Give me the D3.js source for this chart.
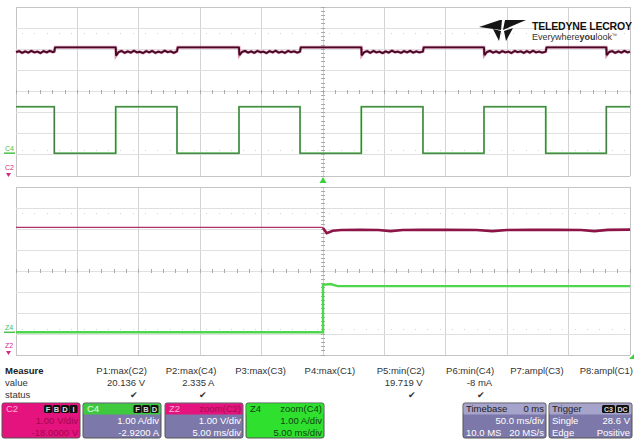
<!DOCTYPE html>
<html><head><meta charset="utf-8">
<script src="https://cdn.jsdelivr.net/npm/d3@7"></script>
<style>html,body{margin:0;padding:0;background:#fff;}svg{display:block;}</style>
</head><body>
<svg id="c" width="634" height="439"></svg>
<script>
// ---------- data ----------
// Timebase 50 ms/div, 10 div, trigger at centre
const mainTimeDomain = [-250, 250];
// C4 (current, A) square wave: time (ms), amps
const c4Time = [-250, -218.8, -218.8, -168.8, -168.8, -118.9, -118.9, -68.4, -68.4, -18.7, -18.7, 31.2, 31.2, 81.4, 81.4, 131.1, 131.1, 181.4, 181.4, 230.7, 230.7, 250];
const c4Amp  = [2.2, 2.2, 0.0, 0.0, 2.2, 2.2, 0.0, 0.0, 2.2, 2.2, 0.0, 0.0, 2.2, 2.2, 0.0, 0.0, 2.2, 2.2, 0.0, 0.0, 2.2, 2.2];
// C2 (voltage, V): flat when current is low, droop with ripple when current is high
const c2Time = [
  -250, -247.5, -245, -242.5, -240, -237.5, -235, -232.5, -230, -227.5, -225, -222.5, -220, -218.8, -218.2,
  -168.8, -168.5, -166.5, -164, -161.5, -159, -156.5, -154, -151.5, -149, -146.5, -144, -141.5, -139, -136.5, -134, -131.5, -129, -126.5, -124, -121.5, -119.5, -118.9, -118.3,
  -68.4, -68.1, -66, -63.5, -61, -58.5, -56, -53.5, -51, -48.5, -46, -43.5, -41, -38.5, -36, -33.5, -31, -28.5, -26, -23.5, -21, -18.7, -18.1,
  31.2, 31.5, 33.5, 36, 38.5, 41, 43.5, 46, 48.5, 51, 53.5, 56, 58.5, 61, 63.5, 66, 68.5, 71, 73.5, 76, 78.5, 81.4, 82,
  131.1, 131.4, 133.5, 136, 138.5, 141, 143.5, 146, 148.5, 151, 153.5, 156, 158.5, 161, 163.5, 166, 168.5, 171, 173.5, 176, 178.5, 181.4, 182,
  230.7, 231, 233, 235.5, 238, 240.5, 243, 245.5, 248, 250];
const c2Volt = [
  19.86, 19.91, 19.83, 19.90, 19.84, 19.92, 19.85, 19.89, 19.82, 19.91, 19.85, 19.92, 19.86, 19.89, 20.09,
  20.09, 19.70, 19.86, 19.92, 19.83, 19.90, 19.84, 19.93, 19.85, 19.88, 19.82, 19.91, 19.85, 19.92, 19.83, 19.89, 19.84, 19.93, 19.86, 19.90, 19.83, 19.89, 19.90, 20.09,
  20.09, 19.72, 19.87, 19.92, 19.84, 19.90, 19.83, 19.92, 19.86, 19.89, 19.82, 19.91, 19.85, 19.93, 19.84, 19.89, 19.83, 19.92, 19.86, 19.90, 19.84, 19.89, 20.09,
  20.09, 19.71, 19.86, 19.91, 19.83, 19.92, 19.85, 19.89, 19.82, 19.90, 19.84, 19.93, 19.86, 19.89, 19.83, 19.91, 19.85, 19.92, 19.84, 19.90, 19.85, 19.89, 20.09,
  20.09, 19.72, 19.87, 19.92, 19.84, 19.90, 19.83, 19.91, 19.85, 19.89, 19.82, 19.92, 19.86, 19.90, 19.83, 19.91, 19.84, 19.93, 19.85, 19.89, 19.84, 19.89, 20.09,
  20.09, 19.72, 19.87, 19.91, 19.83, 19.90, 19.84, 19.92, 19.85, 19.89];
// Zoom traces: 5 ms/div
const zoomTimeDomain = [-25, 25];
const z2Time = [-25, -0.1, 0.0, 0.3, 0.8, 1.5, 3.0, 4.5, 5.5, 6.5, 8.0, 10.0, 12.5, 13.8, 15.0, 17.0, 19.0, 21.0, 22.1, 23.2, 25];
const z2Volt = [20.08, 20.08, 20.05, 19.80, 19.92, 19.95, 19.96, 19.95, 19.90, 19.95, 19.96, 19.96, 19.95, 19.90, 19.95, 19.96, 19.96, 19.95, 19.90, 19.96, 19.97];
const z4Time = [-25, 0, 0, 0.6, 1.2, 25];
const z4Amp  = [0.0, 0.0, 2.26, 2.3, 2.2, 2.2];
// Measurement table
const measNames  = ["P1:max(C2)", "P2:max(C4)", "P3:max(C3)", "P4:max(C1)", "P5:min(C2)", "P6:min(C4)", "P7:ampl(C3)", "P8:ampl(C1)"];
const measValues = ["20.136 V", "2.335 A", "", "", "19.719 V", "-8 mA", "", ""];
const measStatus = [true, true, false, false, true, true, false, false];
// Channel descriptor boxes
const chanNames  = ["C2", "C4", "Z2", "Z4"];
const chanTitles = ["", "", "zoom(C2)", "zoom(C4)"];
const chanBadges = [["F","B","D","I"], ["F","B","D"], [], []];
const chanLine1  = ["1.00 V/div", "1.00 A/div", "1.00 V/div", "1.00 A/div"];
const chanLine2  = ["-18.0000 V", "-2.9200 A", "5.00 ms/div", "5.00 ms/div"];

// ---------- drawing ----------
const svg = d3.select("#c");
const FONT = "'Liberation Sans', Arial, sans-serif";

function grid(x0, x1, y0, y1) {
  const gx = d3.scaleLinear().domain([0, 10]).range([x0, x1]);
  const gy = d3.scaleLinear().domain([0, 8]).range([y0, y1]);
  const g = svg.append("g").attr("shape-rendering", "crispEdges");
  g.append("g").selectAll("line").data(d3.range(0, 11)).join("line")
    .attr("x1", d => gx(d)).attr("x2", d => gx(d)).attr("y1", y0).attr("y2", y1)
    .attr("stroke", d => (d === 0 || d === 10) ? "#c4c4c4" : "#d3d3d3").attr("stroke-width", 1);
  g.append("g").selectAll("line").data(d3.range(0, 9)).join("line")
    .attr("x1", x0).attr("x2", x1).attr("y1", d => gy(d)).attr("y2", d => gy(d))
    .attr("stroke", d => (d === 0 || d === 8) ? "#c4c4c4" : "#e0e0e0").attr("stroke-width", 1);
  // minor ticks on centre lines
  const xm = d3.range(0, 50.01, 1).map(d => d / 5);
  const ym = d3.range(0, 40.01, 1).map(d => d / 5);
  g.append("g").selectAll("line").data(xm).join("line")
    .attr("x1", d => gx(d)).attr("x2", d => gx(d)).attr("y1", gy(4) - 2).attr("y2", gy(4) + 2)
    .attr("stroke", "#aaa");
  g.append("g").selectAll("line").data(ym).join("line")
    .attr("y1", d => gy(d)).attr("y2", d => gy(d)).attr("x1", gx(5) - 2).attr("x2", gx(5) + 2)
    .attr("stroke", "#aaa");
  // faint dotted rows
  [1.25, 6.75].forEach(r => {
    g.append("g").selectAll("rect").data(d3.range(0, 50).map(d => d / 5 + 0.1)).join("rect")
      .attr("x", d => gx(d)).attr("y", gy(r)).attr("width", 1).attr("height", 1).attr("fill", "#d4d4d4");
  });
  return { gx, gy };
}

const TOP = { x0: 16, x1: 630, y0: 7, y1: 176 };
const BOT = { x0: 16, x1: 630, y0: 187, y1: 355 };
grid(TOP.x0, TOP.x1, TOP.y0, TOP.y1);
grid(BOT.x0, BOT.x1, BOT.y0, BOT.y1);

// scales
const xMain = d3.scaleLinear().domain(mainTimeDomain).range([TOP.x0, TOP.x1]);
const yC2 = d3.scaleLinear().domain([14, 22]).range([TOP.y1, TOP.y0]);
const yC4 = d3.scaleLinear().domain([-1.08, 6.92]).range([TOP.y1, TOP.y0]);
const xZoom = d3.scaleLinear().domain(zoomTimeDomain).range([BOT.x0, BOT.x1]);
const yZ2 = d3.scaleLinear().domain([14, 22]).range([BOT.y1, BOT.y0]);
const yZ4 = d3.scaleLinear().domain([-1.08, 6.92]).range([BOT.y1, BOT.y0]);

const line = (xs, ys, tArr, vArr) => d3.line().x((d, i) => xs(tArr[i])).y((d, i) => ys(vArr[i]))(tArr);

// C2 trace
svg.append("path").attr("d", line(xMain, yC2, c2Time, c2Volt))
  .attr("fill", "none").attr("stroke", "#c0387a").attr("stroke-width", 3).attr("opacity", 0.5);
svg.append("path").attr("d", line(xMain, yC2, c2Time, c2Volt))
  .attr("fill", "none").attr("stroke", "#460822").attr("stroke-width", 1.9).attr("stroke-linejoin", "bevel");
// C4 trace
svg.append("path").attr("d", line(xMain, yC4, c4Time, c4Amp))
  .attr("fill", "none").attr("stroke", "#6fd66f").attr("stroke-width", 2).attr("opacity", 0.9);
svg.append("path").attr("d", line(xMain, yC4, c4Time, c4Amp))
  .attr("fill", "none").attr("stroke", "#3d6b3d").attr("stroke-width", 1.1);

// Z2 trace
const k0 = z2Time.filter(t => t <= 0).length - 1;
svg.append("path").attr("d", line(xZoom, yZ2, z2Time.slice(0, k0 + 1), z2Volt.slice(0, k0 + 1)))
  .attr("fill", "none").attr("stroke", "#b0306a").attr("stroke-width", 1.3);
svg.append("path").attr("d", line(xZoom, yZ2, z2Time.slice(k0), z2Volt.slice(k0)))
  .attr("fill", "none").attr("stroke", "#8c1447").attr("stroke-width", 2.6);
// Z4 trace
svg.append("path").attr("d", line(xZoom, yZ4, z4Time, z4Amp))
  .attr("fill", "none").attr("stroke", "#4fd64f").attr("stroke-width", 2.4);

// channel markers at left
function marker(label, y, color, arrow) {
  const g = svg.append("g");
  g.append("text").attr("x", 5).attr("y", y - 2).attr("font-family", FONT).attr("font-size", 7)
    .attr("fill", color).text(label);
  if (!arrow) {
    g.append("line").attr("x1", 4).attr("x2", 15).attr("y1", y).attr("y2", y).attr("stroke", color).attr("stroke-width", 1.5);
  } else {
    g.append("path").attr("d", `M${6},${y + 1} L${11},${y + 1} L${8.5},${y + 5} Z`).attr("fill", color);
  }
}
marker("C4", yC4(0), "#4cc04c", false);
marker("C2", 172, "#d02a86", true);
marker("Z4", yZ4(0), "#4cc04c", false);
marker("Z2", 350, "#d02a86", true);

// trigger marker
svg.append("path").attr("d", `M${xMain(0) - 3.5},183 L${xMain(0) + 3.5},183 L${xMain(0)},177 Z`).attr("fill", "#3bd13b");
svg.append("path").attr("d", `M629,359 L634,359 L634,354 Z`).attr("fill", "#3bd13b");

// Logo
const logo = svg.append("g").attr("fill", "#151515");
logo.append("path").attr("d", "M479,27 L500,20 L502,20 L501,30 Z");
logo.append("path").attr("d", "M526,20 L505,20 L503,30 Z");
logo.append("path").attr("d", "M493,29 L501,31 L499,41 Z");
logo.append("path").attr("d", "M504,31 L513,28 L506,41 Z");
logo.append("text").attr("x", 532).attr("y", 30).attr("font-family", FONT).attr("font-size", 10.5)
  .attr("font-weight", "bold").attr("fill", "#111").attr("textLength", 100).text("TELEDYNE LECROY");
const ev = logo.append("text").attr("x", 532).attr("y", 40).attr("font-family", FONT).attr("font-size", 9).attr("fill", "#333");
ev.append("tspan").text("Everywhere");
ev.append("tspan").attr("font-weight", "bold").text("you");
ev.append("tspan").text("look");
ev.append("tspan").attr("font-size", 5).attr("dy", -3).text("™");

// Measure table
const tbl = svg.append("g").attr("font-family", FONT).attr("font-size", 9.5).attr("fill", "#333");
tbl.append("text").attr("x", 5).attr("y", 374).attr("font-weight", "bold").attr("fill", "#222").text("Measure");
tbl.append("text").attr("x", 5).attr("y", 386).text("value");
tbl.append("text").attr("x", 5).attr("y", 398).text("status");
const colX = d3.scaleLinear().domain([0, 7]).range([147, 633]);
tbl.selectAll("text.h").data(measNames).join("text").attr("class", "h")
  .attr("x", (d, i) => colX(i)).attr("y", 374).attr("text-anchor", "end").text(d => d);
tbl.selectAll("text.v").data(measValues).join("text").attr("class", "v")
  .attr("x", (d, i) => colX(i) - 2).attr("y", 386).attr("text-anchor", "end").text(d => d);
tbl.selectAll("text.s").data(measStatus.map((s, i) => ({ s, i })).filter(d => d.s)).join("text").attr("class", "s")
  .attr("x", d => colX(d.i) - 13).attr("y", 398).attr("text-anchor", "middle").attr("font-size", 9).attr("fill", "#333").text("✔");

// Channel boxes
const boxX = [2, 83, 165, 246];
const BW = 78, BY = 403, BH = 35, HH = 11;
const headFill = ["#e4137d", "#3ec93e", "#e4137d", "#2fe02f"];
const bodyFill = ["#e4137d", "#7c78aa", "#7c78aa", "#2fe02f"];
const nameFill = ["#f8b2d4", "#eaffea", "#f8b2d4", "#114411"];
const titleFill = ["#9b0a48", "#111", "#a0104e", "#114411"];
const bodyText = ["#a3084c", "#fff", "#fff", "#114411"];
chanNames.forEach((nm, i) => {
  const g = svg.append("g").attr("font-family", FONT).attr("font-size", 9.5);
  const x = boxX[i];
  g.append("rect").attr("x", x).attr("y", BY).attr("width", BW).attr("height", BH).attr("rx", 2)
    .attr("fill", bodyFill[i]).attr("stroke", "#555").attr("stroke-width", 1);
  g.append("rect").attr("x", x + 0.5).attr("y", BY + 0.5).attr("width", BW - 1).attr("height", HH).attr("rx", 1.5)
    .attr("fill", headFill[i]);
  g.append("text").attr("x", x + 4).attr("y", BY + 9).attr("fill", nameFill[i]).text(nm);
  if (chanTitles[i]) g.append("text").attr("x", x + BW - 2).attr("y", BY + 9).attr("text-anchor", "end").attr("fill", titleFill[i]).text(chanTitles[i]);
  const b = chanBadges[i];
  b.forEach((t, j) => {
    const bx = x + BW - 2 - (b.length - j) * 8.5;
    g.append("rect").attr("x", bx).attr("y", BY + 2).attr("width", 8).attr("height", 8).attr("rx", 1.5).attr("fill", "#111");
    g.append("text").attr("x", bx + 4).attr("y", BY + 8.8).attr("text-anchor", "middle").attr("font-size", 7.5).attr("font-weight", "bold").attr("fill", "#ddd").text(t);
  });
  g.append("text").attr("x", x + BW - 2).attr("y", BY + 21).attr("text-anchor", "end").attr("fill", bodyText[i]).text(chanLine1[i]);
  g.append("text").attr("x", x + BW - 2).attr("y", BY + 33).attr("text-anchor", "end").attr("fill", bodyText[i]).text(chanLine2[i]);
});

// Timebase & Trigger boxes
const tbLeft = ["Timebase", "", "10.0 MS"], tbRight = ["0 ms", "50.0 ms/div", "20 MS/s"];
const trLeft = ["Trigger", "Single", "Edge"], trRight = ["", "28.6 V", "Positive"];
[[463, tbLeft, tbRight, []], [549, trLeft, trRight, ["C3", "DC"]]].forEach(([x, L, R, badges]) => {
  const g = svg.append("g").attr("font-family", FONT).attr("font-size", 9.5);
  const w = 83;
  g.append("rect").attr("x", x).attr("y", BY).attr("width", w).attr("height", BH).attr("rx", 2)
    .attr("fill", "#7c78aa").attr("stroke", "#555");
  g.append("rect").attr("x", x + 0.5).attr("y", BY + 0.5).attr("width", w - 1).attr("height", HH).attr("rx", 1.5).attr("fill", "#a7a4cc");
  L.forEach((t, j) => g.append("text").attr("x", x + 3).attr("y", BY + 9 + j * 12).attr("fill", j === 0 ? "#222" : "#fff").text(t));
  R.forEach((t, j) => g.append("text").attr("x", x + w - 2).attr("y", BY + 9 + j * 12).attr("text-anchor", "end").attr("fill", j === 0 ? "#222" : "#fff").text(t));
  badges.forEach((t, j) => {
    const bx = x + w - 2 - (badges.length - j) * 14;
    g.append("rect").attr("x", bx).attr("y", BY + 2).attr("width", 13).attr("height", 8).attr("rx", 1.5).attr("fill", "#111");
    g.append("text").attr("x", bx + 6.5).attr("y", BY + 8.8).attr("text-anchor", "middle").attr("font-size", 7).attr("font-weight", "bold").attr("fill", "#ddd").text(t);
  });
});
</script>
</body></html>
